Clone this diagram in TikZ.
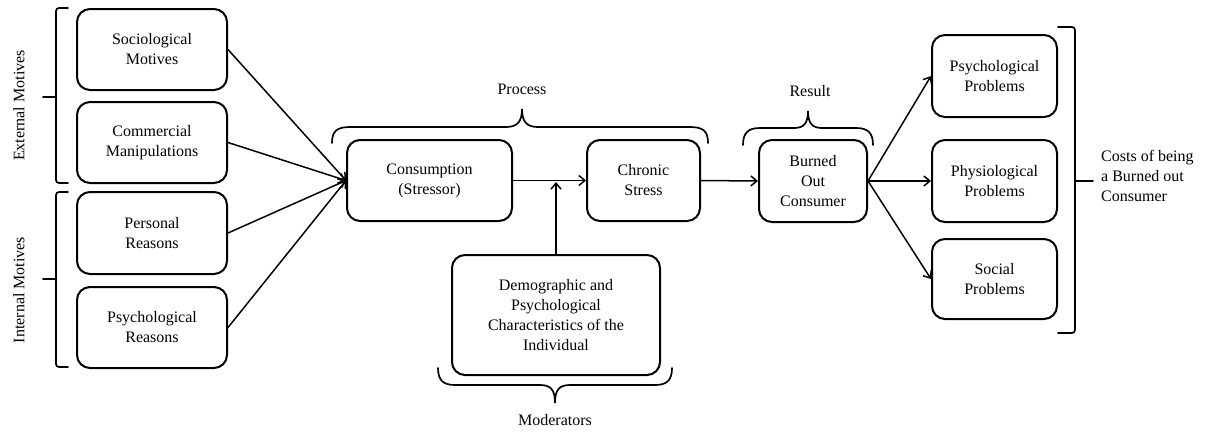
\documentclass[tikz,border=0pt]{standalone}
\usepackage{fontspec}
\setmainfont{Liberation Serif}
\usetikzlibrary{arrows.meta}
\begin{document}
\begin{tikzpicture}[x=1pt,y=-1pt,
  font=\fontsize{16}{20}\selectfont,
  box/.style={draw, line width=2pt, rounded corners=13pt, align=center, inner sep=0pt},
  arr/.style={line width=1.5pt, -{Straight Barb[length=6pt,width=10pt]}},
  brace/.style={line width=1.7pt, line cap=round},
  lbl/.style={inner sep=0pt, align=center}]
\useasboundingbox (0,0) rectangle (1207,432);

% left column
\node[box, minimum width=150pt, minimum height=81pt] (soc) at (152,49.5) {Sociological\\Motives};
\node[box, minimum width=150pt, minimum height=81pt] (com) at (152,142.5) {Commercial\\Manipulations};
\node[box, minimum width=150pt, minimum height=82pt] (per) at (152,233) {Personal\\Reasons};
\node[box, minimum width=150pt, minimum height=81pt] (psr) at (152,327.5) {Psychological\\Reasons};

% middle
\node[box, minimum width=165pt, minimum height=81pt] (cons) at (429.5,180.5) {Consumption\\(Stressor)};
\node[box, minimum width=113pt, minimum height=81pt] (chr) at (643.5,180.5) {Chronic\\Stress};
\node[box, minimum width=208pt, minimum height=120pt] (dem) at (556,315) {Demographic and\\Psychological\\Characteristics of the\\Individual};
\node[box, minimum width=108pt, minimum height=82pt] (bur) at (813,181) {Burned\\Out\\Consumer};

% right column
\node[box, minimum width=125pt, minimum height=82pt] (pp) at (994.5,76) {Psychological\\Problems};
\node[box, minimum width=125pt, minimum height=82pt] (php) at (994.5,181) {Physiological\\Problems};
\node[box, minimum width=125pt, minimum height=80pt] (sp) at (994.5,279) {Social\\Problems};

% connectors
\draw[arr] (soc.east) -- (cons.west);
\draw[arr] (com.east) -- (cons.west);
\draw[arr] (per.east) -- (cons.west);
\draw[arr] (psr.east) -- (cons.west);
\draw[arr] (cons.east) -- (chr.west);
\coordinate (mj) at (556,182);
\draw[arr] (dem.north) -- (mj);
\draw[arr] (chr.east) -- (bur.west);
\draw[arr] (bur.east) -- (pp.west);
\draw[arr] (bur.east) -- (php.west);
\draw[arr] (bur.east) -- (sp.west);

% left brackets
\draw[brace, rounded corners=3pt] (68,8) -- (56,8) -- (56,183) -- (68,183);
\draw[brace] (56,97) -- (43,97);
\draw[brace, rounded corners=3pt] (68,192) -- (56,192) -- (56,367) -- (68,367);
\draw[brace] (56,279) -- (43,279);
\node[lbl, rotate=90] (ext) at (19,105.5) {External Motives};
\node[lbl, rotate=90] (int) at (19,290) {Internal Motives};

% process brace
\draw[brace] (332,143) .. controls (332,131) and (337,127) .. (350,127) -- (506,127)
  .. controls (517,127) and (522,122) .. (522,109)
  .. controls (522,122) and (527,127) .. (538,127) -- (690,127)
  .. controls (703,127) and (708,131) .. (708,143);
\node[lbl] (proc) at (522,89) {Process};

% result brace
\draw[brace] (743,145) .. controls (743,133) and (748,128) .. (760,128) -- (794,128)
  .. controls (804,128) and (808,123) .. (808,111)
  .. controls (808,123) and (812,128) .. (822,128) -- (856,128)
  .. controls (868,128) and (873,133) .. (873,145);
\node[lbl] (res) at (810,91) {Result};

% moderators brace
\draw[brace] (438,368) .. controls (438,380) and (443,385) .. (455,385) -- (540,385)
  .. controls (551,385) and (555,390) .. (555,403)
  .. controls (555,390) and (559,385) .. (570,385) -- (655,385)
  .. controls (667,385) and (672,380) .. (672,368);
\node[lbl] (mod) at (555,420) {Moderators};

% right bracket
\draw[brace, rounded corners=3pt] (1058,27) -- (1075,27) -- (1075,333) -- (1058,333);
\draw[brace] (1075,181) -- (1093,181);
\node[lbl, anchor=west, align=left] (cost) at (1101,176) {Costs of being\\a Burned out\\Consumer};
\end{tikzpicture}
\end{document}
